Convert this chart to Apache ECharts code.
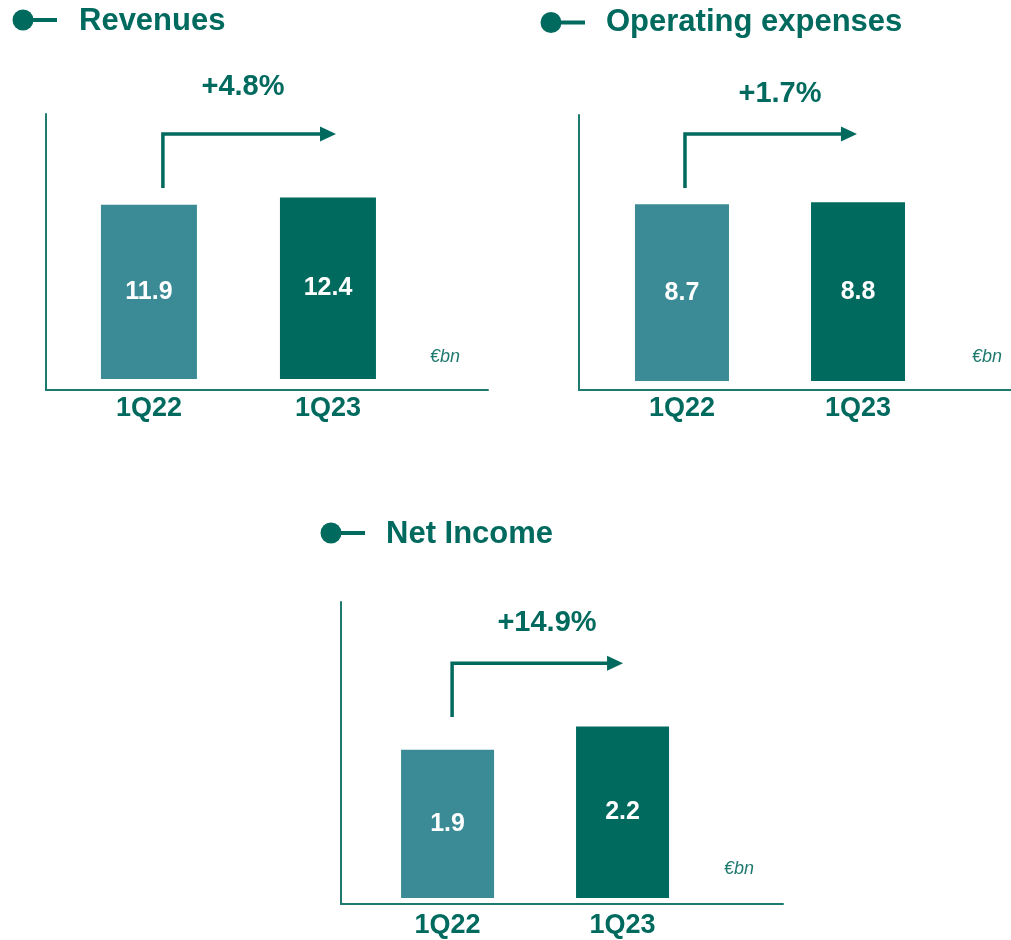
<!DOCTYPE html>
<html>
<head>
<meta charset="utf-8">
<script src="https://cdn.jsdelivr.net/npm/echarts@6/dist/echarts.min.js"></script>
<style>
html,body{margin:0;padding:0;background:#fff;}
#chart{width:1011px;height:940px;}
</style>
</head>
<body>
<div id="chart"></div>
<script>
// ---- data ----
const categories = ['1Q22', '1Q23'];
const revenues = [11.9, 12.4];
const operatingExpenses = [8.7, 8.8];
const netIncome = [1.9, 2.2];
const titles = ['Revenues', 'Operating expenses', 'Net Income'];
const growthLabels = ['+4.8%', '+1.7%', '+14.9%'];
const unitLabel = '€bn';

// ---- styles ----
const FONT = 'Arial, "Liberation Sans", Helvetica, sans-serif';
const DARK = '#006A5E';
const LIGHT = '#3A8B95';
const AXIS = '#1E7A6E';

const panels = [
  { values: revenues, grid: {left: 46, top: 114, width: 442, height: 276}, x: [-0.575, 1.894], y: [-0.75, 18.1],
    barWidth: 96, labelMargin: 5, bullet: [23, 20], titlePos: [79, 21], growthPos: [243, 87], unitPos: [430, 357],
    arrow: {x0: 0.078, y0: 13.05, y1: 16.73, x1: 1.045} },
  { values: operatingExpenses, grid: {left: 579, top: 115, width: 432, height: 275}, x: [-0.585, 1.869], y: [-0.44, 13.1],
    barWidth: 94, labelMargin: 5, bullet: [551, 22.5], titlePos: [606, 22], growthPos: [780, 94], unitPos: [972, 357],
    arrow: {x0: 0.017, y0: 9.50, y1: 12.16, x1: 0.994} },
  { values: netIncome, grid: {left: 341, top: 602, width: 442, height: 302}, x: [-0.609, 1.917], y: [-0.077, 3.795],
    barWidth: 93, labelMargin: 8, bullet: [331, 533], titlePos: [386, 534], growthPos: [547, 623], unitPos: [724, 869],
    arrow: {x0: 0.026, y0: 2.32, y1: 3.01, x1: 1.003} }
];

const chart = echarts.init(document.getElementById('chart'));

const option = {
  animation: false,
  backgroundColor: '#fff',
  grid: panels.map(p => Object.assign({containLabel: false}, p.grid)),
  xAxis: panels.map((p, i) => ({
    type: 'value', gridIndex: i, min: p.x[0], max: p.x[1],
    axisLine: {show: true, onZero: false, lineStyle: {color: AXIS, width: 2}},
    axisTick: {show: false},
    splitLine: {show: false},
    axisLabel: {
      show: true, customValues: [0, 1], margin: p.labelMargin,
      formatter: v => categories[Math.round(v)] || '',
      color: DARK, fontFamily: FONT, fontWeight: 'bold', fontSize: 27
    }
  })),
  yAxis: panels.map((p, i) => ({
    type: 'value', gridIndex: i, min: p.y[0], max: p.y[1],
    axisLine: {show: true, onZero: false, lineStyle: {color: AXIS, width: 2}},
    axisTick: {show: false}, splitLine: {show: false}, axisLabel: {show: false}
  })),
  series: panels.map((p, i) => ({
    type: 'bar', xAxisIndex: i, yAxisIndex: i, barWidth: p.barWidth,
    data: p.values.map((v, j) => ({value: [j, v], itemStyle: {color: j === 0 ? LIGHT : DARK}})),
    label: {show: true, position: 'inside', color: '#fff', fontFamily: FONT, fontWeight: 'bold', fontSize: 25,
      formatter: d => d.value[1].toFixed(1)}
  }))
};
chart.setOption(option);

// ---- annotations ----
const graphics = [];
panels.forEach((p, i) => {
  // title bullet
  graphics.push({type: 'line', shape: {x1: p.bullet[0], y1: p.bullet[1], x2: p.bullet[0] + 34, y2: p.bullet[1]},
    style: {stroke: DARK, lineWidth: 4}});
  graphics.push({type: 'circle', shape: {cx: p.bullet[0], cy: p.bullet[1], r: 10.5}, style: {fill: DARK}});
  graphics.push({type: 'text', x: p.titlePos[0], y: p.titlePos[1],
    style: {text: titles[i], fill: DARK, font: 'bold 31px ' + FONT, textVerticalAlign: 'middle', textAlign: 'left'}});
  // growth label
  graphics.push({type: 'text', x: p.growthPos[0], y: p.growthPos[1],
    style: {text: growthLabels[i], fill: DARK, font: 'bold 29px ' + FONT, textVerticalAlign: 'middle', textAlign: 'center'}});
  // unit label
  graphics.push({type: 'text', x: p.unitPos[0], y: p.unitPos[1],
    style: {text: unitLabel, fill: AXIS, font: 'italic 18px ' + FONT, textVerticalAlign: 'middle', textAlign: 'left'}});
  // arrow
  const a = p.arrow;
  const s = chart.convertToPixel({gridIndex: i}, [a.x0, a.y0]);
  const c = chart.convertToPixel({gridIndex: i}, [a.x0, a.y1]);
  const t = chart.convertToPixel({gridIndex: i}, [a.x1, a.y1]);
  const head = 16;
  graphics.push({type: 'polyline', shape: {points: [s, c, [t[0] - head + 1, t[1]]]},
    style: {stroke: DARK, lineWidth: 3.5, fill: null, lineJoin: 'miter'}});
  graphics.push({type: 'polygon', shape: {points: [[t[0], t[1]], [t[0] - head, t[1] - 7.5], [t[0] - head, t[1] + 7.5]]},
    style: {fill: DARK}});
});
chart.setOption({graphic: graphics});
</script>
</body>
</html>
